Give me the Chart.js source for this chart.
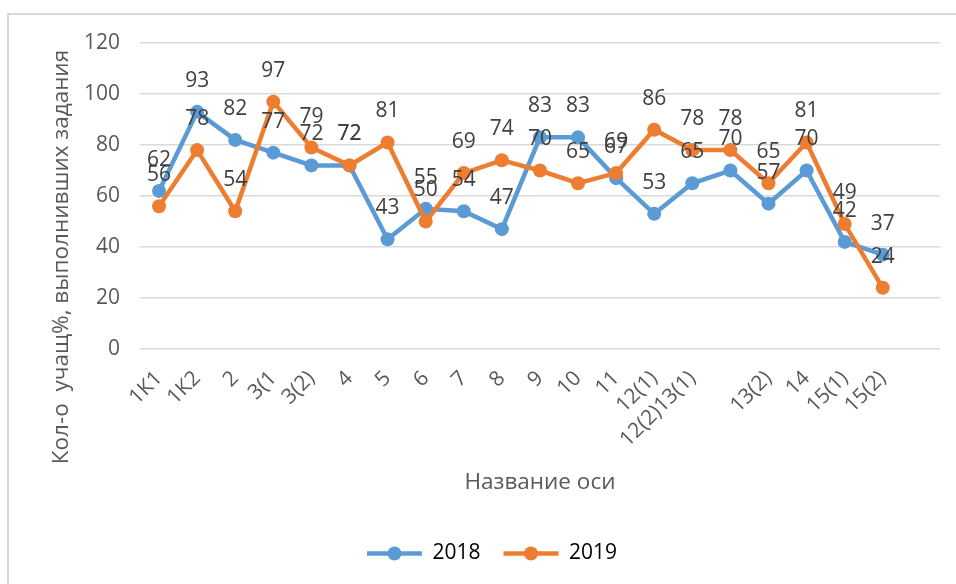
<!DOCTYPE html>
<html>
<head>
<meta charset="utf-8">
<script src="https://cdn.jsdelivr.net/npm/chart.js@4/dist/chart.umd.min.js"></script>
<style>
  html, body { margin: 0; padding: 0; background: #ffffff; }
  #wrap { width: 956px; height: 584px; position: relative; }
</style>
</head>
<body>
<div id="wrap"><canvas id="c" width="956" height="584"></canvas></div>
<script>
const categories = ["1К1", "1К2", "2", "3(1", "3(2)", "4", "5", "6", "7", "8", "9", "10", "11", "12(1)", "12(2)13(1)", "", "13(2)", "14", "15(1)", "15(2)", ""];
const series2018 = [62, 93, 82, 77, 72, 72, 43, 55, 54, 47, 83, 83, 67, 53, 65, 70, 57, 70, 42, 37, null];
const series2019 = [56, 78, 54, 97, 79, 72, 81, 50, 69, 74, 70, 65, 69, 86, 78, 78, 65, 81, 49, 24, null];
const seriesNames = ["2018", "2019"];
const yTicks = [0, 20, 40, 60, 80, 100, 120];
const yTitle = "Кол-о  учащ%, выполнивших задания";
const xTitle = "Название оси";

const FONT = "'Open Sans', 'Noto Sans', sans-serif";
const FS = 21;
const TFS = 22.5;
const BLUE = "#5B9BD5";
const ORANGE = "#ED7D31";

const framePlugin = {
  id: "frame",
  beforeDraw(chart) {
    const ctx = chart.ctx;
    ctx.save();
    ctx.fillStyle = "#ffffff";
    ctx.fillRect(0, 0, chart.width, chart.height);
    ctx.strokeStyle = "#d9d9d9";
    ctx.lineWidth = 2;
    ctx.strokeRect(8, 14, 1200, 1200);
    ctx.restore();
  },
  afterDraw(chart) {
    const ctx = chart.ctx;
    // y axis title
    ctx.save();
    ctx.translate(62, 257);
    ctx.rotate(-Math.PI / 2);
    ctx.font = TFS + "px " + FONT;
    ctx.fillStyle = "#595959";
    ctx.textAlign = "center";
    ctx.textBaseline = "middle";
    ctx.fillText(yTitle, 0, 0);
    ctx.restore();
    // legend markers
    const lg = chart.legend;
    if (lg && lg.legendHitBoxes) {
      lg.legendHitBoxes.forEach((hb, i) => {
        const item = lg.legendItems[i];
        const ds = chart.data.datasets[item.datasetIndex];
        const cy = hb.top + FS / 2;
        ctx.save();
        ctx.strokeStyle = ds.borderColor;
        ctx.lineWidth = 4.5;
        ctx.beginPath();
        ctx.moveTo(hb.left, cy);
        ctx.lineTo(hb.left + 55, cy);
        ctx.stroke();
        ctx.fillStyle = ds.borderColor;
        ctx.beginPath();
        ctx.arc(hb.left + 27.5, cy, 7, 0, Math.PI * 2);
        ctx.fill();
        ctx.restore();
      });
    }
  }
};

const labelPlugin = {
  id: "valueLabels",
  afterDatasetsDraw(chart) {
    const ctx = chart.ctx;
    ctx.save();
    ctx.font = FS + "px " + FONT;
    ctx.fillStyle = "#404040";
    ctx.textAlign = "center";
    ctx.textBaseline = "middle";
    chart.data.datasets.forEach((ds, di) => {
      const meta = chart.getDatasetMeta(di);
      meta.data.forEach((pt, j) => {
        const v = ds.data[j];
        if (v === null || v === undefined) return;
        ctx.fillText(String(v), pt.x, pt.y - 31);
      });
    });
    ctx.restore();
  }
};

new Chart(document.getElementById("c"), {
  type: "line",
  data: {
    labels: categories,
    datasets: [
      {
        label: seriesNames[0],
        data: series2018,
        borderColor: BLUE,
        backgroundColor: BLUE,
        borderWidth: 4.5,
        pointRadius: 7,
        pointBorderWidth: 0,
        pointBackgroundColor: BLUE,
        tension: 0,
        order: 1
      },
      {
        label: seriesNames[1],
        data: series2019,
        borderColor: ORANGE,
        backgroundColor: ORANGE,
        borderWidth: 4.5,
        pointRadius: 7,
        pointBorderWidth: 0,
        pointBackgroundColor: ORANGE,
        tension: 0,
        order: 0
      }
    ]
  },
  options: {
    responsive: false,
    animation: false,
    layout: { padding: { left: 42, right: 14, top: 43, bottom: 10 } },
    scales: {
      x: {
        offset: true,
        grid: { display: false, drawTicks: false },
        border: { display: false },
        ticks: {
          autoSkip: false,
          maxRotation: 45,
          minRotation: 45,
          padding: 17,
          color: "#595959",
          font: { family: FONT, size: FS }
        },
        title: {
          display: true,
          text: xTitle,
          color: "#595959",
          font: { family: FONT, size: TFS },
          padding: { top: 0, bottom: 24 }
        },
        afterFit(scale) { scale.height = 171; }
      },
      y: {
        min: 0,
        max: 120,
        afterBuildTicks(scale) { scale.ticks = yTicks.map(v => ({ value: v })); },
        grid: { color: "#d9d9d9", lineWidth: 1.5, drawTicks: false },
        border: { display: false },
        ticks: {
          padding: 20,
          color: "#595959",
          font: { family: FONT, size: FS }
        },
        afterFit(scale) { scale.width = 98; }
      }
    },
    plugins: {
      tooltip: { enabled: false },
      legend: {
        position: "bottom",
        labels: {
          boxWidth: 55,
          boxHeight: FS,
          padding: 23,
          color: "#595959",
          font: { family: FONT, size: FS },
          sort: (a, b) => a.datasetIndex - b.datasetIndex,
          generateLabels(chart) {
            return chart.data.datasets.map((ds, i) => ({
              text: ds.label,
              datasetIndex: i,
              fillStyle: "rgba(0,0,0,0)",
              strokeStyle: "rgba(0,0,0,0)",
              lineWidth: 0,
              hidden: false
            }));
          }
        }
      }
    }
  },
  plugins: [framePlugin, labelPlugin]
});
</script>
</body>
</html>
